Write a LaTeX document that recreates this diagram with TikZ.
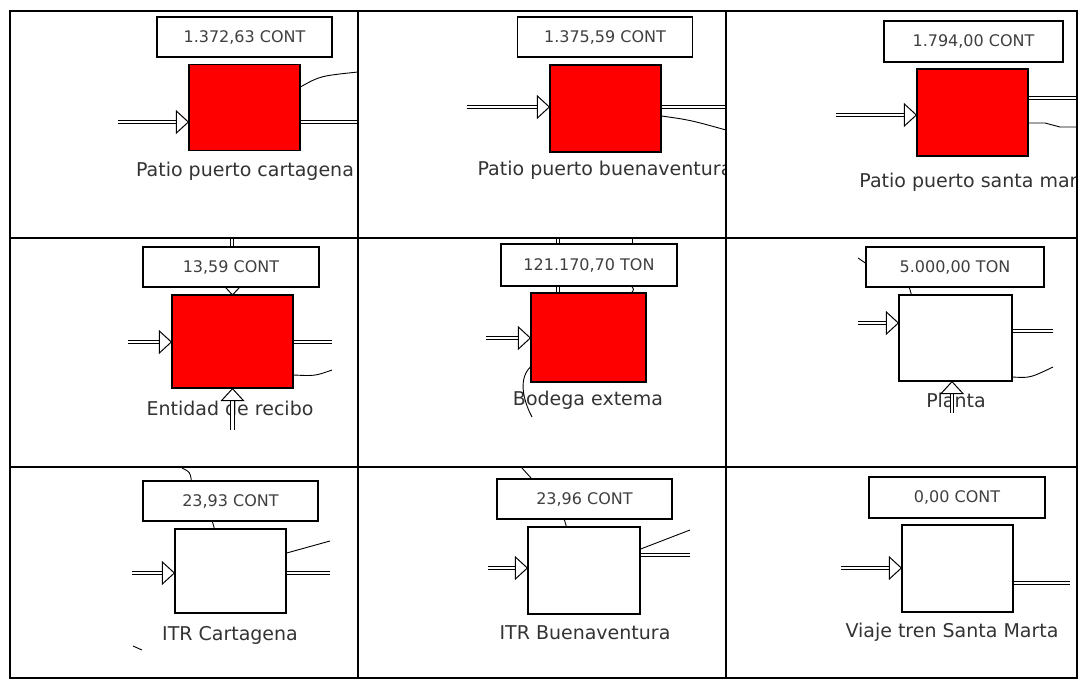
\documentclass[tikz,border=0pt]{standalone}
\usepackage{fontspec}
\setmainfont{DejaVu Sans}
\usetikzlibrary{calc}

\begin{document}
\begin{tikzpicture}[
  x=1pt,
  y=-1pt,
  grid/.style={line width=2pt},
  valbox/.style={draw, line width=1.3pt, fill=white, minimum width=175, minimum height=40,
    inner sep=0pt, text=black!75, font=\fontsize{16}{16}\selectfont},
  stockred/.style={draw, line width=1.3pt, fill=red, minimum width=111, minimum height=86, inner sep=0pt},
  stockwhite/.style={stockred, fill=white},
  lbl/.style={inner sep=0pt, text=black!80, font=\fontsize{19}{19}\selectfont},
  pipe/.style={double, double distance=2.2pt, line width=1.1pt},
  info/.style={line width=0.9pt},
  intri/.pic={\draw[line width=1pt, fill=white] (0,0) -- (-12,-11) -- (-12,11) -- cycle;},
  uptri/.pic={\draw[line width=1pt, fill=white] (0,0) -- (-11,12) -- (11,12) -- cycle;},
  downtri/.pic={\draw[line width=1pt, fill=white] (0,0) -- (-11,-12) -- (11,-12) -- cycle;},
]
\useasboundingbox (0,0) rectangle (1079,681);

% fila 1: patios de puerto
\node[valbox] (pcartv) at (244.5,37) {1.372,63 CONT};
\node[stockred] (pcart) at (244.5,107.5) {};
\node[lbl] (pcartl) at (245,171) {Patio puerto cartagena};
\coordinate (pcartin) at (118,122);
\coordinate (pcartout) at (358,122);
\coordinate (pcartinfo) at (358,72);
\draw[pipe] (pcartin) -- ($(pcartin -| pcart.west)+(-12,0)$);
\pic at (pcartin -| pcart.west) {intri};
\draw[pipe] (pcartin -| pcart.east) -- (pcartout);
\draw[info] ($(pcart.north east)+(0,23)$) .. controls (320,76) .. (pcartinfo);

\node[valbox] (pbuenv) at (605,37) {1.375,59 CONT};
\node[stockred, minimum height=87] (pbuen) at (605.5,108.5) {};
\begin{scope}
  \clip (358,11) rectangle (726,238);
  \node[lbl] (pbuenl) at (605,170) {Patio puerto buenaventura};
\end{scope}
\coordinate (pbuenin) at (467,107);
\coordinate (pbuenout) at (726,107);
\coordinate (pbueninfo) at (726,130);
\draw[pipe] (pbuenin) -- ($(pbuenin -| pbuen.west)+(-12,0)$);
\pic at (pbuenin -| pbuen.west) {intri};
\draw[pipe] (pbuenin -| pbuen.east) -- (pbuenout);
\draw[info] ($(pbuen.east)+(0,7.5)$) .. controls (690,120) .. (pbueninfo);

\node[valbox, minimum width=179, minimum height=41] (psmarv) at (973.5,41.5) {1.794,00 CONT};
\node[stockred, minimum height=87] (psmar) at (972.5,112.5) {};
\begin{scope}
  \clip (726,11) rectangle (1077,238);
  \node[lbl] (psmarl) at (978,182) {Patio puerto santa marta};
\end{scope}
\coordinate (psmarin) at (836,115);
\coordinate (psmarout) at (1077,98);
\coordinate (psmarinfo) at (1077,127);
\draw[pipe] (psmarin) -- ($(psmarin -| psmar.west)+(-12,0)$);
\pic at (psmarin -| psmar.west) {intri};
\draw[pipe] (psmarout -| psmar.east) -- (psmarout);
\draw[info] ($(psmar.east)+(0,10.5)$) -- (1045,123) -- (1060,127) -- (psmarinfo);

% fila 2: recibo, bodega y planta
\pic at (232.5,295) {downtri};
\node[valbox, minimum width=176] (erecibov) at (231,267) {13,59 CONT};
\node[stockred, minimum width=121, minimum height=93] (erecibo) at (232.5,341.5) {};
\node[lbl] (erecibol) at (230,408) {Entidad de recibo};
\coordinate (erecibotop) at (232,238);
\coordinate (erecibobot) at (232.5,430);
\coordinate (erecibin) at (128,342);
\coordinate (erecibout) at (332,342);
\coordinate (erecibinfo) at (332,370);
\draw[pipe] (erecibotop) -- (erecibotop |- erecibov.north);
\draw[pipe] (erecibin) -- ($(erecibin -| erecibo.west)+(-12,0)$);
\pic at (erecibin -| erecibo.west) {intri};
\draw[pipe] (erecibin -| erecibo.east) -- (erecibout);
\draw[info] ($(erecibo.east)+(0,33.5)$) .. controls (315,376) .. (erecibinfo);
\draw[pipe] ($(erecibo.south)+(0,12)$) -- (erecibobot);
\pic at (erecibo.south) {uptri};

\node[valbox, minimum width=176, minimum height=42] (bextv) at (589,265) {121.170,70 TON};
\node[stockred, minimum width=115, minimum height=89] (bext) at (588.5,337.5) {};
\node[lbl] (bextl) at (588,400) {Bodega extema};
\coordinate (bexttop) at (558,238);
\coordinate (bextinfotop) at (632,238);
\coordinate (bextin) at (486,338);
\coordinate (bextinfo) at (532,417);
\draw[pipe] (bexttop) -- (bexttop |- bextv.north);
\draw[pipe] (bexttop |- bextv.south) -- (bexttop |- bext.north);
\draw[info] (bextinfotop) -- (bextinfotop |- bextv.north);
\draw[info] (bextinfotop |- bextv.south) .. controls (634,289) .. (bextinfotop |- bext.north);
\draw[pipe] (bextin) -- ($(bextin -| bext.west)+(-12,0)$);
\pic at (bextin -| bext.west) {intri};
\draw[info] ($(bext.west)+(0,29.5)$) .. controls (519,378) and (522,398) .. (bextinfo);

\node[valbox, minimum width=178] (plantav) at (955,267) {5.000,00 TON};
\node[stockwhite, minimum width=113] (planta) at (955.5,338) {};
\node[lbl] (plantal) at (956,400) {Planta};
\coordinate (plantainfotop) at (858,258);
\coordinate (plantain) at (858,323);
\coordinate (plantaout) at (1053,331);
\coordinate (plantainfo) at (1053,367);
\coordinate (plantabot) at (952,413);
\draw[info] (plantainfotop) -- ($(plantav.west)+(0,-4)$);
\draw[info] ($(plantav.south west)+(44,0)$) -- ($(planta.north west)+(13,0)$);
\draw[pipe] (plantain) -- ($(plantain -| planta.west)+(-12,0)$);
\pic at (plantain -| planta.west) {intri};
\draw[pipe] (plantaout -| planta.east) -- (plantaout);
\draw[info] ($(planta.east)+(0,39)$) .. controls (1030,378) .. (plantainfo);
\draw[pipe] ($(plantabot |- planta.south)+(0,12)$) -- (plantabot);
\pic at (plantabot |- planta.south) {uptri};

% fila 3: ITR y tren
\node[valbox] (itrcarv) at (230.5,501) {23,93 CONT};
\node[stockwhite, minimum height=84] (itrcar) at (230.5,571) {};
\node[lbl] (itrcarl) at (230,635) {ITR Cartagena};
\coordinate (itrcarinfotop) at (182,468);
\coordinate (itrcarin) at (132,573);
\coordinate (itrcarout) at (330,573);
\coordinate (itrcarinfo) at (330,541);
\coordinate (itrcarloosea) at (133,646);
\coordinate (itrcarlooseb) at (142,650);
\draw[info] (itrcarinfotop) .. controls (190,472) .. ($(itrcarv.north west)+(49,0)$);
\draw[info] ($(itrcarv.south west)+(70,0)$) -- ($(itrcar.north west)+(40,0)$);
\draw[pipe] (itrcarin) -- ($(itrcarin -| itrcar.west)+(-12,0)$);
\pic at (itrcarin -| itrcar.west) {intri};
\draw[pipe] (itrcarin -| itrcar.east) -- (itrcarout);
\draw[info] ($(itrcar.east)+(0,-18)$) -- (itrcarinfo);
\draw[info] (itrcarloosea) -- (itrcarlooseb);

\node[valbox] (itrbuev) at (584.5,499) {23,96 CONT};
\node[stockwhite, minimum width=112, minimum height=87] (itrbue) at (584,570.5) {};
\node[lbl] (itrbuel) at (585,633) {ITR Buenaventura};
\coordinate (itrbueinfotop) at (522,468);
\coordinate (itrbuein) at (488,568);
\coordinate (itrbueout) at (690,555);
\coordinate (itrbueinfo) at (690,530);
\draw[info] (itrbueinfotop) -- ($(itrbuev.north west)+(35,0)$);
\draw[info] ($(itrbuev.south west)+(68,0)$) -- ($(itrbue.north west)+(39,0)$);
\draw[pipe] (itrbuein) -- ($(itrbuein -| itrbue.west)+(-12,0)$);
\pic at (itrbuein -| itrbue.west) {intri};
\draw[pipe] (itrbueout -| itrbue.east) -- (itrbueout);
\draw[info] ($(itrbue.east)+(0,-21.5)$) -- (itrbueinfo);

\node[valbox, minimum width=176, minimum height=41] (viajev) at (957,497.5) {0,00 CONT};
\node[stockwhite, minimum height=87] (viaje) at (957.5,568.5) {};
\node[lbl] (viajel) at (952,632) {Viaje tren Santa Marta};
\coordinate (viajein) at (841,568);
\coordinate (viajeout) at (1070,583);
\draw[pipe] (viajein) -- ($(viajein -| viaje.west)+(-12,0)$);
\pic at (viajein -| viaje.west) {intri};
\draw[pipe] (viajeout -| viaje.east) -- (viajeout);

% rejilla de la tabla
\draw[grid] (10,11) rectangle (1077,678);
\draw[grid] (358,11) -- (358,678);
\draw[grid] (726,11) -- (726,678);
\draw[grid] (10,238) -- (1077,238);
\draw[grid] (10,467) -- (1077,467);

\end{tikzpicture}
\end{document}
